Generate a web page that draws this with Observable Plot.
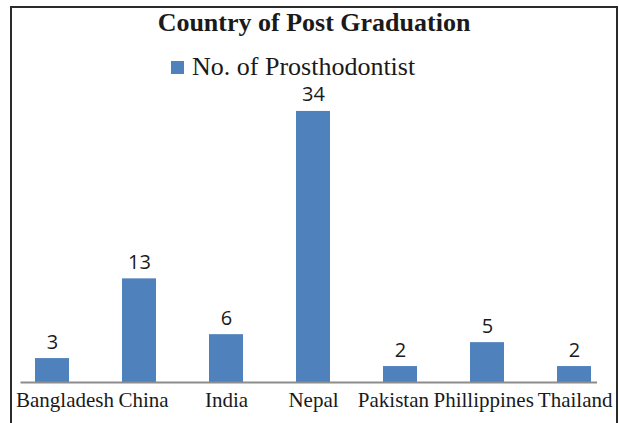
<!DOCTYPE html>
<html>
<head>
<meta charset="utf-8">
<script src="https://cdn.jsdelivr.net/npm/d3@7"></script>
<script src="https://cdn.jsdelivr.net/npm/@observablehq/plot@0.6"></script>
<style>
  html, body { margin: 0; padding: 0; background: #fff; }
  #wrap { position: relative; width: 619px; height: 423px; overflow: hidden; }
  #frame { position: absolute; left: 10px; top: 6px; width: 604px; height: 430px;
           border: 2px solid #2b2b2b; pointer-events: none; }
  #title { margin: 0; padding-top: 8px; margin-left: 12px; width: 604px; height: 33px; line-height: 33px;
           text-align: center; font: bold 26px "Liberation Serif", serif; color: #1a1a1a; }
  #legend { margin-top: 11px; height: 24px; line-height: 30px; padding-left: 171px;
            font: 26px "Liberation Serif", serif; color: #1a1a1a; white-space: nowrap; }
  #legend .sw { display: inline-block; width: 13px; height: 13px; background: #4F81BD;
                margin-right: 8px; vertical-align: 1px; }
  svg { display: block; }
</style>
</head>
<body>
<div id="wrap">
  <div id="title"></div>
  <div id="legend"></div>
  <div id="chart"></div>
  <div id="frame"></div>
</div>
<script>
const title = "Country of Post Graduation";
const seriesName = "No. of Prosthodontist";
const countries = ["Bangladesh", "China", "India", "Nepal", "Pakistan", "Phillippines", "Thailand"];
const counts = [3, 13, 6, 34, 2, 5, 2];

const barColor = "#4F81BD";
const data = countries.map((c, i) => ({country: c, value: counts[i]}));

document.getElementById("title").textContent = title;
const lg = document.getElementById("legend");
const sw = document.createElement("span"); sw.className = "sw";
lg.appendChild(sw);
lg.appendChild(document.createTextNode(seriesName));

const plot = Plot.plot({
  width: 619,
  height: 347,
  marginTop: 19,
  marginBottom: 41,
  marginLeft: 8.5,
  marginRight: 1.5,
  style: {background: "transparent", overflow: "visible"},
  x: {type: "band", domain: countries, paddingInner: 0.61, paddingOuter: 0.305, align: 0.5, label: null},
  y: {domain: [0, 36], axis: null},
  marks: [
    Plot.barY(data, {x: "country", y: "value", fill: barColor}),
    Plot.ruleY([0], {stroke: "#8c8c8c", strokeWidth: 2, insetLeft: 12, insetRight: 20.5}),
    Plot.text(data, {x: "country", y: "value", text: d => String(d.value), lineAnchor: "bottom", dy: -10,
      fontFamily: "'Open Sans', sans-serif", fontSize: 20, fill: "#1a1a1a"}),
    Plot.axisX({tickSize: 0, tickPadding: 10, fontSize: 21, fontFamily: "'Liberation Serif', serif",
      fill: "#1a1a1a", label: null})
  ]
});
plot.setAttribute("font-family", "'Liberation Serif', serif");
document.getElementById("chart").appendChild(plot);

// Excel-like tick label collision layout: keep inside the frame, nudge apart with a small gap.
(function layoutTicks() {
  const texts = Array.from(plot.querySelectorAll('g[aria-label="x-axis tick label"] text'));
  if (!texts.length) return;
  const svgLeft = plot.getBoundingClientRect().left;
  const boxes = texts.map(t => { const r = t.getBoundingClientRect(); return {l: r.left - svgLeft, w: r.width}; });
  const orig = boxes.map(b => b.l);
  const minL = 16, maxR = 613, gap = 4;
  for (let i = 0; i < boxes.length; i++) {
    const lo = i === 0 ? minL : boxes[i - 1].l + boxes[i - 1].w + gap;
    boxes[i].l = Math.max(boxes[i].l, lo);
  }
  for (let i = boxes.length - 1; i >= 0; i--) {
    const hi = i === boxes.length - 1 ? maxR - boxes[i].w : boxes[i + 1].l - gap - boxes[i].w;
    boxes[i].l = Math.min(boxes[i].l, hi);
  }
  texts.forEach((t, i) => {
    const s = boxes[i].l - orig[i];
    if (Math.abs(s) > 0.01) t.setAttribute("transform", (t.getAttribute("transform") || "") + ` translate(${s.toFixed(2)},0)`);
  });
})();
</script>
</body>
</html>
